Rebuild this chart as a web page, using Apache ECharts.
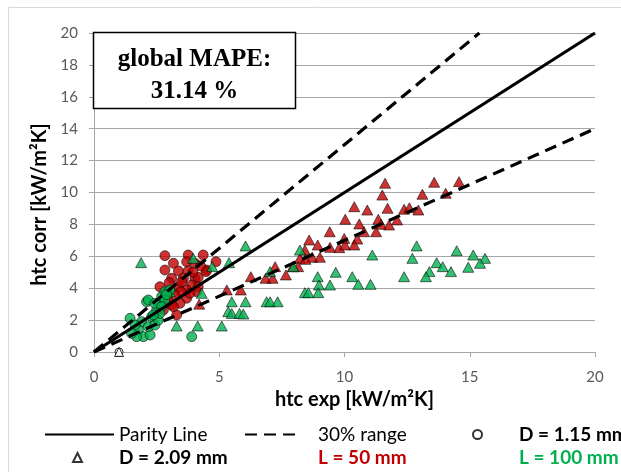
<!DOCTYPE html>
<html>
<head>
<meta charset="utf-8">
<script src="https://cdn.jsdelivr.net/npm/echarts@6/dist/echarts.min.js"></script>
<style>
  html, body { margin: 0; padding: 0; background: #fff; }
  #chart { width: 621px; height: 472px; }
</style>
</head>
<body>
<div id="chart"></div>
<script>
// [htc exp, htc corr] in kW/m2K
// L = 50 mm, D = 1.15 mm
const redCircles = [
  [2.83,6.04],[3.76,6.08],[4.36,6.08],[3.17,5.56],[3.70,5.66],[4.03,5.56],[2.83,5.14],[3.37,5.08],
  [3.76,5.08],[4.50,5.14],[4.47,5.04],[4.87,5.66],[4.03,4.62],[3.10,4.62],[3.57,4.62],[4.16,4.68],
  [3.90,4.20],[4.16,4.09],[2.63,4.09],[3.37,4.09],[3.70,3.89],[4.10,3.78],[3.46,3.78],[3.70,3.37],
  [3.23,3.57],[3.43,3.05],[3.10,2.95],[3.30,2.32],[2.77,2.63],[3.17,2.84],[3.83,3.68],[3.50,4.40],
  [3.00,4.35],[3.95,5.00],[4.25,5.40],[2.95,3.20]
];
// L = 100 mm, D = 1.15 mm
const greenCircles = [
  [2.10,3.15],[1.44,2.11],[1.90,1.90],[2.30,2.21],[2.50,2.63],[2.63,3.05],[2.70,3.47],[2.83,3.78],
  [1.77,1.38],[1.97,0.96],[1.70,0.96],[2.24,1.07],[2.17,1.59],[2.43,1.69],[2.57,2.00],[1.64,1.69],
  [2.83,3.26],[2.17,3.26],[2.43,3.05],[2.70,2.84],[2.63,2.42],[2.37,2.32],[3.03,3.89],[3.90,0.96],
  [1.50,1.17],[2.90,3.60]
];
// L = 50 mm, D = 2.09 mm
const redTriangles = [
  [11.62,10.58],[13.58,10.64],[14.57,10.68],[11.51,9.84],[13.11,9.89],[14.04,9.95],[10.39,9.11],
  [10.91,8.90],[11.72,9.01],[12.38,8.95],[12.59,9.05],[12.95,8.90],[10.03,8.32],[10.59,8.03],
  [11.35,8.32],[11.46,8.01],[11.78,7.96],[12.10,8.28],[10.78,7.54],[11.26,7.54],[9.41,7.54],
  [9.99,7.12],[10.51,7.08],[8.59,7.02],[8.93,6.71],[9.42,6.56],[9.79,6.54],[10.02,6.71],
  [10.39,6.71],[8.42,6.39],[8.71,5.94],[9.02,5.94],[8.22,5.87],[8.44,5.81],[8.15,5.35],
  [7.93,5.35],[7.66,4.83],[7.23,5.35],[6.85,4.62],[7.13,4.62],[6.26,4.72],[5.30,3.89],
  [5.86,3.89],[4.20,3.00]
];
// L = 100 mm, D = 2.09 mm
const greenTriangles = [
  [8.22,6.39],[12.88,6.65],[12.71,5.87],[14.48,6.35],[15.14,6.08],[15.61,5.87],[15.41,5.56],
  [14.94,5.31],[13.68,5.60],[13.92,5.35],[14.25,5.04],[13.39,5.04],[13.25,4.72],[12.38,4.72],
  [11.11,6.08],[9.65,5.00],[10.31,4.72],[10.55,4.24],[11.04,4.24],[8.93,4.72],[8.98,4.20],
  [9.42,4.20],[8.42,3.72],[8.56,3.72],[8.95,3.72],[6.89,3.15],[7.03,3.15],[7.33,3.15],
  [7.03,5.04],[7.96,5.35],[6.05,6.65],[5.39,5.60],[4.72,5.35],[3.96,5.87],[4.30,3.68],
  [5.50,3.15],[6.05,3.15],[5.36,2.53],[5.50,2.42],[5.81,2.42],[5.96,2.38],[3.30,1.63],
  [4.14,1.63],[5.10,1.63],[1.88,5.60],[3.03,3.78]
];
// open markers used for the D legend entries
const dSmall = [[1, 0]];
const dLarge = [[1, 0]];
// reference lines
const parityLine = [[0, 0], [20, 20]];
const upper30 = [[0, 0], [15.385, 20]];
const lower30 = [[0, 0], [20, 14]];

const mapeText = ['global MAPE:', '31.14 %'];

const RED = '#c00000';
const GREEN = '#00b050';
const GRID = '#a6a6a6';
const LEG_FONT = 19;

const chart = echarts.init(document.getElementById('chart'));

function legendText(color, bold, padLeft) {
  return {
    fontFamily: 'Lato', fontSize: LEG_FONT, color: color,
    fontWeight: bold ? 'bold' : 'normal', padding: [0, 0, 0, padLeft || 0]
  };
}

const legendBase = {
  orient: 'horizontal',
  padding: 0,
  itemHeight: 10,
  selectedMode: false
};

const option = {
  backgroundColor: '#fff',
  animation: false,
  grid: { left: 94, right: 26, top: 33, bottom: 120 },
  xAxis: {
    type: 'value',
    min: 0, max: 20, interval: 5,
    name: 'htc exp [kW/m²K]',
    nameLocation: 'middle',
    nameGap: 38,
    nameTextStyle: { fontFamily: 'Lato', fontSize: 20, fontWeight: 'bold', color: '#000', padding: [0, 0, 0, 20] },
    axisLine: { show: true, lineStyle: { color: GRID } },
    axisTick: { show: true, length: 5, lineStyle: { color: GRID } },
    axisLabel: { fontFamily: 'Lato', fontSize: 15, color: '#595959', margin: 18 },
    splitLine: { show: false }
  },
  yAxis: {
    type: 'value',
    min: 0, max: 20, interval: 2,
    name: 'htc corr [kW/m²K]',
    nameLocation: 'middle',
    nameGap: 44,
    nameTextStyle: { fontFamily: 'Lato', fontSize: 20, fontWeight: 'bold', color: '#000', padding: [0, 24, 0, 0] },
    axisLine: { show: true, lineStyle: { color: GRID } },
    axisTick: { show: true, length: 5, lineStyle: { color: GRID } },
    axisLabel: { fontFamily: 'Lato', fontSize: 15, color: '#595959', margin: 16 },
    splitLine: { show: true, lineStyle: { color: GRID, width: 1 } }
  },
  legend: [
    Object.assign({}, legendBase, { data: ['Parity Line'], left: 44, top: 425, itemWidth: 69,
      itemStyle: { opacity: 0 }, textStyle: legendText('#000', false, 0) }),
    Object.assign({}, legendBase, { data: ['30% range'], left: 244, top: 425, itemWidth: 56,
      itemStyle: { opacity: 0 }, textStyle: legendText('#000', false, 12) }),
    Object.assign({}, legendBase, { data: ['D = 1.15 mm'], left: 472, top: 425, itemWidth: 9, itemHeight: 9,
      textStyle: legendText('#000', true, 32) }),
    Object.assign({}, legendBase, { data: ['D = 2.09 mm'], left: 72, top: 448, itemWidth: 9, itemHeight: 9,
      textStyle: legendText('#000', true, 32) }),
    Object.assign({}, legendBase, { data: ['L = 50 mm'], left: 312, top: 448, itemWidth: 0,
      itemStyle: { opacity: 0 }, textStyle: legendText(RED, true, 0) }),
    Object.assign({}, legendBase, { data: ['L = 100 mm'], left: 513, top: 448, itemWidth: 0,
      itemStyle: { opacity: 0 }, textStyle: legendText(GREEN, true, 0) })
  ],
  graphic: [
    { type: 'rect', silent: true, z: 0, shape: { x: 8.5, y: 7.5, width: 800, height: 600 },
      style: { fill: 'none', stroke: '#d9d9d9', lineWidth: 1 } },
    { type: 'rect', silent: true, z: 100, shape: { x: 93.5, y: 32.5, width: 202, height: 76 },
      style: { fill: '#fff', stroke: '#000', lineWidth: 1.5 } },
    { type: 'text', silent: true, z: 101, x: 194.5, y: 60,
      style: { text: mapeText[0], fontFamily: 'Liberation Serif', fontSize: 25, fontWeight: 'bold',
        fill: '#000', align: 'center', verticalAlign: 'middle' } },
    { type: 'text', silent: true, z: 101, x: 194.5, y: 92,
      style: { text: mapeText[1], fontFamily: 'Liberation Serif', fontSize: 25, fontWeight: 'bold',
        fill: '#000', align: 'center', verticalAlign: 'middle' } }
  ],
  series: [
    { name: 'L = 50 mm', type: 'scatter', data: redTriangles, symbol: 'triangle', symbolSize: [11, 10], z: 2,
      itemStyle: { color: RED, borderColor: '#000', borderWidth: 0.7 } },
    { name: 'L = 50 mm', type: 'scatter', data: redCircles, symbol: 'circle', symbolSize: 10, z: 2,
      itemStyle: { color: RED, borderColor: '#000', borderWidth: 0.7 } },
    { name: 'L = 100 mm', type: 'scatter', data: greenTriangles, symbol: 'triangle', symbolSize: [11, 10], z: 3,
      itemStyle: { color: GREEN, borderColor: '#000', borderWidth: 0.7 } },
    { name: 'L = 100 mm', type: 'scatter', data: greenCircles, symbol: 'circle', symbolSize: 10, z: 3,
      itemStyle: { color: GREEN, borderColor: '#000', borderWidth: 0.7 } },
    { name: 'D = 1.15 mm', type: 'scatter', data: dSmall, symbol: 'circle', symbolSize: 8, z: 4,
      itemStyle: { color: '#fff', borderColor: '#000', borderWidth: 1 } },
    { name: 'D = 2.09 mm', type: 'scatter', data: dLarge, symbol: 'triangle', symbolSize: 9, z: 4,
      itemStyle: { color: '#fff', borderColor: '#000', borderWidth: 1 } },
    { name: 'Parity Line', type: 'line', data: parityLine, symbol: 'none', z: 5,
      itemStyle: { color: '#000' }, lineStyle: { color: '#000', width: 3.2 } },
    { name: '30% range', type: 'line', data: upper30, symbol: 'none', z: 5,
      itemStyle: { color: '#000' }, lineStyle: { color: '#000', width: 3.2, type: [12, 7] } },
    { name: '30% range', type: 'line', data: lower30, symbol: 'none', z: 5,
      itemStyle: { color: '#000' }, lineStyle: { color: '#000', width: 3.2, type: [12, 7] } }
  ]
};

chart.setOption(option);
</script>
</body>
</html>
